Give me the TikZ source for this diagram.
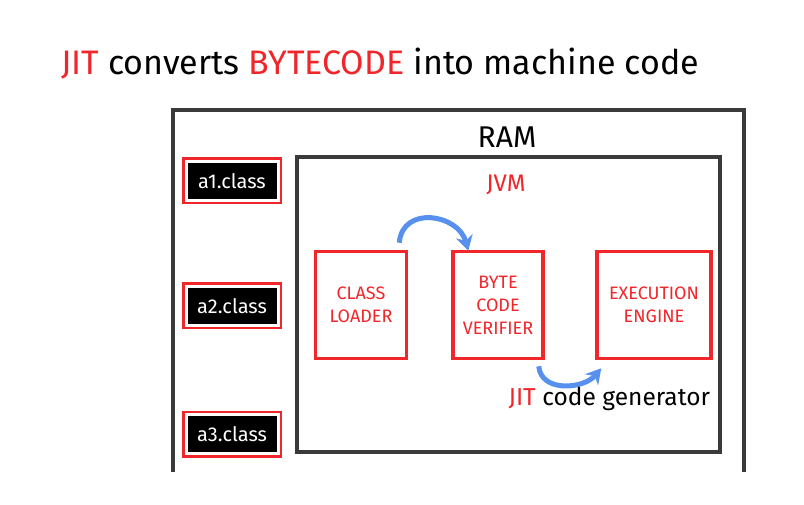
\documentclass[tikz,border=0pt]{standalone}
\usepackage{fontspec}
\setmainfont{Fira Sans}
\usepackage{tikz}
\usetikzlibrary{arrows.meta,positioning,calc}
\definecolor{jitred}{RGB}{240,38,42}
\definecolor{darkline}{RGB}{58,58,58}
\definecolor{flowblue}{RGB}{88,144,238}

\begin{document}
\begin{tikzpicture}[x=1pt,y=1pt,>=Stealth]
    \tikzset{frame/.style={draw=darkline,line width=4pt}}
    \tikzset{unit/.style ={draw=jitred,line width=3.5pt,align=center,text=jitred,
        font=\fontsize{18}{23}\selectfont,minimum height=107pt,inner sep=2pt}}
    \tikzset{cls/.style  ={preaction={draw=jitred,line width=8pt},draw=white,line width=3pt,
        fill=black,text=white,font=\fontsize{20}{22}\selectfont,minimum width=92pt,minimum height=39pt,inner sep=1pt}}
    \tikzset{flow/.style ={-{Stealth[length=15pt,width=17pt]},draw=flowblue,line width=5pt}}
    \useasboundingbox (0,0) rectangle (804,-505);

    % Title
    \node[anchor=base,font=\fontsize{34}{40}\selectfont] (title) at (380,-75)
      {\textcolor{jitred}{JIT} converts \textcolor{jitred}{BYTECODE} into machine code};

    % RAM (open at the bottom)
    \draw[frame] (173,-472) -- (173,-110) -- (744,-110) -- (744,-472);
    \node[anchor=base,font=\fontsize{30}{34}\selectfont] (ram) at (507,-148) {RAM};

    % JVM
    \node[frame,minimum width=423pt,minimum height=295pt] (jvm) at (508.5,-304.5) {};
    \node[anchor=base,text=jitred,font=\fontsize{24}{28}\selectfont] (jvmlabel) at (506,-192) {JVM};

    % Class files
    \node[cls] (a1) at (232,-181) {a1.class};
    \node[cls] (a2) at (232,-306) {a2.class};
    \node[cls] (a3) at (232,-434) {a3.class};

    % Units inside the JVM
    \node[unit,minimum width=91pt]  (loader)   at (361,-305) {CLASS\\LOADER};
    \node[unit,minimum width=90pt]  (verifier) at (498,-305) {BYTE\\CODE\\VERIFIER};
    \node[unit,minimum width=114pt] (engine)   at (654,-305) {EXECUTION\\ENGINE};

    % Flow arrows
    \draw[flow] ($(loader.north east)+(-9,7)$) to[out=85,in=105,looseness=1.4] ($(verifier.north west)+(17,-1)$);
    \draw[flow] ($(verifier.south east)+(-6,-6)$) to[out=-85,in=230,looseness=1.1] ($(engine.south west)+(6,-8)$);
    \node[anchor=base west,font=\fontsize{24.5}{28}\selectfont] (jit) at (505,-405)
      {\textcolor{jitred}{JIT} code generator};
\end{tikzpicture}
\end{document}
